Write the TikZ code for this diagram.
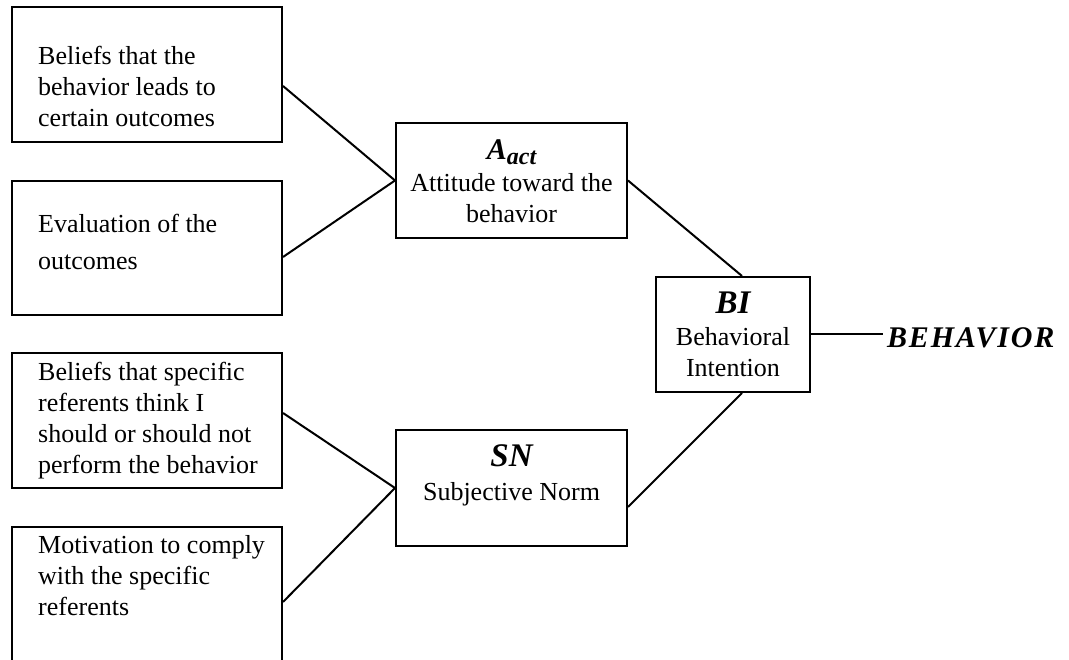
\documentclass[tikz,border=0pt]{standalone}
\usepackage{fontspec}
\setmainfont{Liberation Serif}
\newfontfamily\behfont[LetterSpace=6]{Liberation Serif}
\usetikzlibrary{positioning,calc}

\newcommand{\ttl}{\fontsize{33}{36}\selectfont\bfseries\itshape}

\begin{document}
\begin{tikzpicture}[x=1pt, y=-1pt,
    box/.style={draw, line width=2pt, inner sep=0pt, minimum width=270pt, minimum height=135pt},
    midbox/.style={draw, line width=2pt, inner sep=0pt, minimum width=231pt, minimum height=115pt},
    txt/.style={inner sep=0pt, align=left, font=\fontsize{26}{31}\selectfont, anchor=base west},
    ctxt/.style={inner sep=0pt, align=center, font=\fontsize{26}{31.5}\selectfont, anchor=base},
    link/.style={line width=2pt}]
    \useasboundingbox (0,0) rectangle (1069,660);

    % Left boxes
    \node [box] (belief) at (147,74.5) {};
    \node [box, minimum height=134pt] (evalu) at (147,248) {};
    \node [box] (normbel) at (147,420.5) {};
    \node [box] (motiv) at (147,594.5) {};

    % Middle boxes
    \node [midbox] (att) at (511.5,180.5) {};
    \node [midbox, minimum height=116pt] (sn) at (511.5,488) {};
    \node [midbox, minimum width=154pt] (bi) at (733,334.5) {};

    % Labels (anchored at the last line)
    \node [txt] (belieftxt) at (38,127) {Beliefs that the\\behavior leads to\\certain outcomes};
    \node [txt] (evalutxt) at (38,270) {Evaluation of the\\[6pt]outcomes};
    \node [txt] (normbeltxt) at (38,473) {Beliefs that specific\\referents think I\\should or should not\\perform the behavior};
    \node [txt] (motivtxt) at (38,615) {Motivation to comply\\with the specific\\referents};
    \node [ctxt] (atttxt) at (511.5,223) {{\ttl\fontsize{30}{32}\selectfont A\raisebox{-5pt}{\fontsize{24}{24}\selectfont act}}\\Attitude toward the\\behavior};
    \node [ctxt] (sntxt) at (511.5,500) {{\ttl SN}\\[2pt]Subjective Norm};
    \node [ctxt] (bitxt) at (733,377) {{\ttl BI}\\Behavioral\\Intention};
    \node [inner xsep=4pt, inner ysep=0pt, anchor=base west,
        font=\behfont\fontsize{30}{32}\selectfont\bfseries\itshape] (beh) at (883,348) {BEHAVIOR};

    % Connections
    \draw [link] ($(belief.east)+(0,11.5)$) -- (att.west);
    \draw [link] ($(evalu.east)+(0,9)$) -- (att.west);
    \draw [link] ($(normbel.east)+(0,-7.5)$) -- (sn.west);
    \draw [link] ($(motiv.east)+(0,7.5)$) -- (sn.west);
    \draw [link] (att.east) -- ($(bi.north)+(9,0)$);
    \draw [link] ($(sn.east)+(0,19)$) -- ($(bi.south)+(9,0)$);
    \draw [link] (bi.east) -- (bi.east -| beh.west);

\end{tikzpicture}
\end{document}
